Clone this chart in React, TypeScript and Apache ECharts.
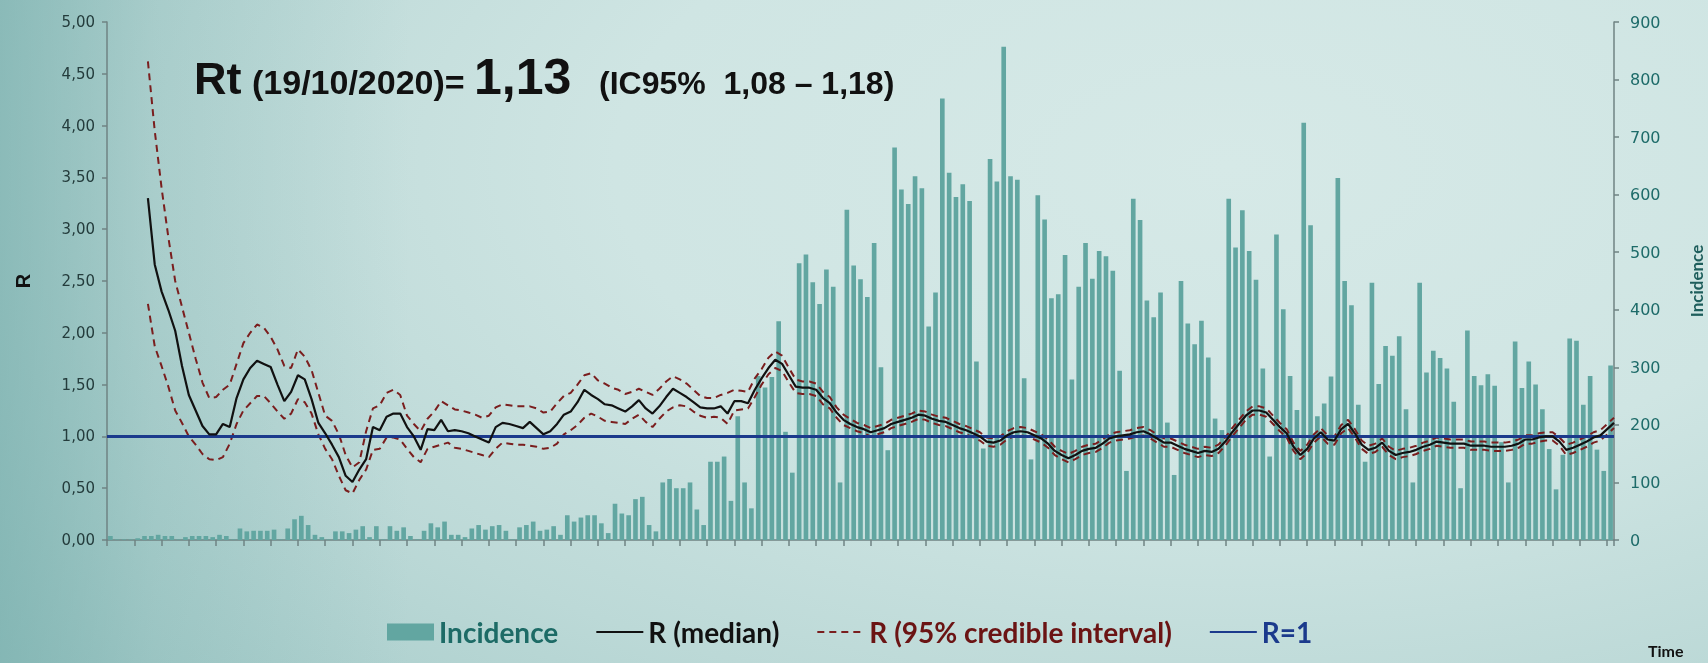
import React, { useEffect, useRef } from "react";
import * as echarts from "echarts";

// ---------- data ----------
function makeDates(n: number, endIso: string): string[] {
  const end = new Date(endIso + "T12:00:00Z").getTime();
  const out: string[] = [];
  for (let k = n - 1; k >= 0; k--) {
    const d = new Date(end - k * 86400000);
    const dd = String(d.getUTCDate()).padStart(2, "0");
    const mm = String(d.getUTCMonth() + 1).padStart(2, "0");
    out.push(dd + "/" + mm + "/" + d.getUTCFullYear());
  }
  return out;
}

const barDays = makeDates(221, "2020-10-18");
const lineDays = makeDates(222, "2020-10-19");

const incidence = [
  7, 1, 1, 1, 3, 7, 7, 9, 7, 7,
  1, 5, 7, 7, 7, 5, 9, 7, 1, 20,
  15, 16, 16, 16, 18, 1, 20, 36, 42, 26,
  9, 5, 1, 15, 15, 12, 18, 24, 5, 24,
  1, 24, 16, 22, 7, 1, 16, 29, 22, 32,
  9, 9, 5, 20, 26, 18, 24, 26, 16, 1,
  22, 26, 32, 16, 18, 24, 9, 43, 32, 39,
  43, 43, 29, 12, 63, 46, 43, 71, 75, 26,
  15, 100, 106, 90, 90, 100, 53, 26, 136, 136,
  145, 68, 215, 100, 55, 285, 265, 283, 380, 188,
  117, 481, 496, 448, 410, 470, 440, 100, 574, 477,
  453, 422, 516, 300, 156, 682, 609, 584, 632, 611,
  371, 430, 767, 638, 596, 618, 589, 310, 159, 662,
  623, 857, 632, 626, 281, 140, 599, 557, 420, 427,
  495, 279, 440, 516, 454, 502, 493, 468, 294, 120,
  593, 556, 416, 387, 430, 204, 113, 450, 376, 340,
  381, 317, 211, 191, 593, 508, 573, 502, 452, 298,
  145, 531, 401, 285, 226, 725, 547, 215, 237, 284,
  629, 450, 408, 235, 136, 447, 271, 337, 320, 354,
  227, 100, 447, 291, 329, 316, 298, 240, 90, 364,
  285, 269, 288, 268, 170, 100, 345, 264, 310, 270,
  227, 158, 88, 148, 350, 346, 235, 285, 157, 120,
  303,
];

const rMedian = [
  null, null, null, null, null, null, 3.3, 2.66, 2.4, 2.22,
  2.02, 1.68, 1.4, 1.25, 1.1, 1.02, 1.02, 1.12, 1.09, 1.37,
  1.55, 1.66, 1.73, 1.7, 1.67, 1.5, 1.34, 1.43, 1.59, 1.55,
  1.36, 1.13, 1.03, 0.92, 0.8, 0.62, 0.56, 0.68, 0.78, 1.09,
  1.06, 1.19, 1.22, 1.22, 1.09, 1.0, 0.87, 1.07, 1.06, 1.16,
  1.05, 1.06, 1.05, 1.03, 1.0, 0.97, 0.94, 1.09, 1.13, 1.12,
  1.1, 1.08, 1.14, 1.08, 1.02, 1.05, 1.12, 1.21, 1.24, 1.33,
  1.45, 1.4, 1.36, 1.31, 1.3, 1.27, 1.24, 1.29, 1.35, 1.27,
  1.22, 1.29, 1.38, 1.46, 1.42, 1.38, 1.33, 1.28, 1.27, 1.27,
  1.29, 1.22, 1.34, 1.34, 1.32, 1.45, 1.56, 1.66, 1.74, 1.7,
  1.59, 1.48, 1.47, 1.47, 1.45, 1.37, 1.32, 1.23, 1.16, 1.12,
  1.09, 1.07, 1.04, 1.06, 1.08, 1.12, 1.14, 1.16, 1.18, 1.21,
  1.2, 1.17, 1.15, 1.14, 1.11, 1.08, 1.06, 1.03, 1.0, 0.95,
  0.94, 0.96, 1.01, 1.04, 1.05, 1.04, 1.01, 0.98, 0.93, 0.86,
  0.82, 0.79, 0.82, 0.86, 0.88, 0.89, 0.93, 0.98, 1.0, 1.01,
  1.02, 1.04, 1.05, 1.02, 0.98, 0.94, 0.94, 0.91, 0.88, 0.86,
  0.84, 0.86, 0.85, 0.88, 0.95, 1.04, 1.12, 1.2, 1.25, 1.25,
  1.23, 1.16, 1.09, 1.03, 0.9, 0.82, 0.88, 0.98, 1.04, 0.97,
  0.96, 1.07, 1.12, 1.03, 0.92, 0.87, 0.89, 0.94, 0.86, 0.82,
  0.84, 0.85, 0.87, 0.9, 0.92, 0.95, 0.94, 0.93, 0.93, 0.93,
  0.91, 0.91, 0.91, 0.9, 0.9, 0.9, 0.91, 0.93, 0.97, 0.97,
  0.99, 1.0, 1.0, 0.95, 0.87, 0.89, 0.92, 0.95, 0.99, 1.01,
  1.07, 1.13,
];

const rUpper = [
  null, null, null, null, null, null, 4.62, 3.95, 3.4, 2.92,
  2.5, 2.25, 2.0, 1.75, 1.52, 1.37, 1.38, 1.45, 1.5, 1.7,
  1.9, 2.0, 2.08, 2.05, 1.96, 1.84, 1.68, 1.66, 1.84, 1.77,
  1.64, 1.42, 1.2, 1.15, 1.02, 0.82, 0.7, 0.75, 1.05, 1.27,
  1.3, 1.42, 1.45, 1.4, 1.2, 1.12, 1.05, 1.17, 1.24, 1.34,
  1.3, 1.26, 1.25, 1.23, 1.21, 1.18, 1.2, 1.28, 1.31, 1.3,
  1.29, 1.29, 1.29, 1.27, 1.23, 1.24, 1.32, 1.39, 1.42, 1.5,
  1.59, 1.61, 1.54, 1.51, 1.47, 1.45, 1.41, 1.43, 1.46, 1.43,
  1.4, 1.46, 1.53, 1.58, 1.55, 1.51, 1.45, 1.39, 1.37, 1.37,
  1.4, 1.42, 1.45, 1.44, 1.43, 1.56, 1.65, 1.76, 1.82, 1.78,
  1.66, 1.55, 1.53, 1.53, 1.51, 1.43, 1.38, 1.28, 1.21, 1.17,
  1.13, 1.11, 1.08, 1.1, 1.12, 1.16, 1.18, 1.2, 1.22, 1.25,
  1.24, 1.21, 1.19, 1.18, 1.15, 1.12, 1.1, 1.07, 1.04, 0.99,
  0.98, 1.0, 1.05, 1.08, 1.09, 1.08, 1.05, 1.02, 0.97, 0.9,
  0.86, 0.83, 0.86, 0.9, 0.92, 0.93, 0.97, 1.02, 1.04, 1.05,
  1.06, 1.08, 1.09, 1.06, 1.02, 0.98, 0.98, 0.95, 0.92, 0.9,
  0.88, 0.9, 0.89, 0.92, 0.99, 1.08, 1.16, 1.24, 1.29, 1.29,
  1.27, 1.2, 1.13, 1.07, 0.94, 0.86, 0.92, 1.02, 1.08, 1.01,
  1.0, 1.11, 1.16, 1.07, 0.96, 0.91, 0.93, 0.98, 0.9, 0.86,
  0.88, 0.89, 0.91, 0.94, 0.96, 0.99, 0.98, 0.97, 0.97, 0.97,
  0.95, 0.95, 0.95, 0.94, 0.94, 0.94, 0.95, 0.97, 1.01, 1.01,
  1.03, 1.04, 1.04, 0.99, 0.92, 0.94, 0.97, 1.0, 1.04, 1.06,
  1.12, 1.18,
];

const rLower = [
  null, null, null, null, null, null, 2.28, 1.87, 1.68, 1.48,
  1.25, 1.13, 1.0, 0.92, 0.83, 0.78, 0.77, 0.8, 0.93, 1.12,
  1.25, 1.32, 1.39, 1.39, 1.32, 1.24, 1.17, 1.22, 1.36, 1.33,
  1.22, 1.02, 0.88, 0.78, 0.62, 0.48, 0.45, 0.58, 0.68, 0.87,
  0.88, 0.99, 0.99, 0.97, 0.88, 0.8, 0.75, 0.88, 0.9, 0.92,
  0.94, 0.89, 0.88, 0.86, 0.84, 0.82, 0.8, 0.88, 0.94, 0.93,
  0.92, 0.92, 0.91, 0.9, 0.88, 0.89, 0.93, 1.02, 1.06, 1.11,
  1.18, 1.22, 1.19, 1.15, 1.14, 1.13, 1.12, 1.17, 1.21, 1.14,
  1.09, 1.17, 1.24, 1.28, 1.3, 1.29, 1.24, 1.2, 1.18, 1.19,
  1.18, 1.12, 1.25, 1.26, 1.27, 1.38, 1.5, 1.6, 1.66, 1.63,
  1.52, 1.42, 1.41, 1.41, 1.39, 1.31, 1.27, 1.18, 1.11, 1.08,
  1.05, 1.03, 1.0, 1.02, 1.04, 1.08, 1.1, 1.12, 1.14, 1.17,
  1.16, 1.13, 1.11, 1.1, 1.07, 1.04, 1.02, 0.99, 0.96, 0.91,
  0.9, 0.92, 0.97, 1.0, 1.01, 1.0, 0.97, 0.94, 0.89, 0.82,
  0.78, 0.75, 0.78, 0.82, 0.84, 0.85, 0.89, 0.94, 0.96, 0.97,
  0.98, 1.0, 1.01, 0.98, 0.94, 0.9, 0.9, 0.87, 0.84, 0.82,
  0.8, 0.82, 0.81, 0.84, 0.91, 1.0, 1.08, 1.16, 1.21, 1.21,
  1.19, 1.12, 1.05, 0.99, 0.86, 0.78, 0.84, 0.94, 1.0, 0.93,
  0.92, 1.03, 1.08, 0.99, 0.88, 0.83, 0.85, 0.9, 0.82, 0.78,
  0.8, 0.81, 0.83, 0.86, 0.88, 0.91, 0.9, 0.89, 0.89, 0.89,
  0.87, 0.87, 0.87, 0.86, 0.86, 0.86, 0.87, 0.89, 0.93, 0.93,
  0.95, 0.96, 0.96, 0.91, 0.82, 0.84, 0.87, 0.9, 0.94, 0.96,
  1.02, 1.08,
];

const REFERENCE_R = 1;
const titleParts = ["Rt", "(19/10/2020)=", "1,13", "(IC95%  1,08 – 1,18)"];
const legendNames = ["Incidence", "R (median)", "R (95% credible interval)", "R=1"];

// ---------- styles ----------
const BAR = "#62a6a1";
const NAVY = "#1b3a8c";
const DARKRED = "#7a1e1e";
const AXIS = "#6f8383";
const TITLE_FONT = '"Liberation Sans", Arial, sans-serif';

export default function App() {
  const ref = useRef<HTMLDivElement>(null);

  useEffect(() => {
    document.body.style.margin = "0";
    document.body.style.overflow = "hidden";
    if (!ref.current) return;
    const chart = echarts.init(ref.current, undefined, { renderer: "svg" });

    const titleStyle = (size: number) => ({
      fill: "#111111",
      fontFamily: TITLE_FONT,
      fontWeight: "bold",
      fontSize: size,
      align: "left",
      verticalAlign: "middle",
      textAlign: "left",
      textVerticalAlign: "middle",
    });
    const baseline = 94;
    const yFor = (size: number) => baseline - 0.347 * size;

    const hiddenSymbol = { opacity: 0 };

    const option: any = {
      animation: false,
      backgroundColor: "transparent",
      grid: {
        left: 107,
        right: 94,
        top: 22,
        bottom: 123,
        containLabel: false,
        outerBoundsMode: "none",
      },
      legend: {
        left: 382,
        top: 613,
        itemWidth: 47,
        itemHeight: 17,
        itemGap: 37,
        textStyle: { fontFamily: "Lato", fontWeight: "bold", fontSize: 28 },
        data: [
          { name: legendNames[0], icon: "rect", textStyle: { color: "#1d6b66" } },
          { name: legendNames[1], itemStyle: hiddenSymbol, textStyle: { color: "#111111" } },
          { name: legendNames[2], itemStyle: hiddenSymbol, textStyle: { color: "#6b1414" } },
          { name: legendNames[3], itemStyle: hiddenSymbol, textStyle: { color: NAVY } },
        ],
      },
      xAxis: [
        {
          type: "category",
          data: barDays,
          boundaryGap: true,
          axisLine: { show: true, lineStyle: { color: AXIS, width: 1.5 } },
          axisTick: { show: true, interval: 3, length: 6, lineStyle: { color: AXIS, width: 1.5 } },
          axisLabel: { show: false },
          splitLine: { show: false },
        },
        {
          type: "category",
          data: lineDays,
          boundaryGap: false,
          show: false,
        },
      ],
      yAxis: [
        {
          type: "value",
          position: "left",
          min: 0,
          max: 5,
          interval: 0.5,
          axisLine: { show: true, lineStyle: { color: AXIS, width: 1.5 } },
          axisTick: { show: true, length: 5, lineStyle: { color: AXIS, width: 1.5 } },
          splitLine: { show: false },
          axisLabel: {
            formatter: (v: number) => v.toFixed(2).replace(".", ","),
            color: "#243c3c",
            fontFamily: "DejaVu Sans",
            fontSize: 15,
            margin: 12,
          },
          name: "R",
          nameLocation: "middle",
          nameGap: 74,
          nameRotate: 90,
          nameTextStyle: { fontFamily: TITLE_FONT, fontWeight: "bold", fontSize: 20, color: "#111111" },
        },
        {
          type: "value",
          position: "right",
          min: 0,
          max: 900,
          interval: 100,
          axisLine: { show: true, lineStyle: { color: AXIS, width: 1.5 } },
          axisTick: { show: true, length: 5, lineStyle: { color: AXIS, width: 1.5 } },
          splitLine: { show: false },
          axisLabel: {
            color: "#1d6b69",
            fontFamily: "DejaVu Sans",
            fontSize: 16,
            margin: 16,
          },
          name: "Incidence",
          nameLocation: "middle",
          nameGap: 74,
          nameRotate: 90,
          nameTextStyle: { fontFamily: "Lato", fontWeight: "bold", fontSize: 17, color: "#1e5e5c" },
        },
      ],
      series: [
        {
          type: "bar",
          name: legendNames[0],
          xAxisIndex: 0,
          yAxisIndex: 1,
          data: incidence,
          barCategoryGap: "32%",
          itemStyle: { color: BAR },
          z: 1,
        },
        {
          type: "line",
          name: legendNames[3],
          xAxisIndex: 1,
          yAxisIndex: 0,
          data: [],
          symbol: "none",
          lineStyle: { color: NAVY, width: 3 },
          itemStyle: { color: NAVY },
          markLine: {
            silent: true,
            symbol: ["none", "none"],
            label: { show: false },
            lineStyle: { color: NAVY, width: 3, type: "solid" },
            data: [{ yAxis: REFERENCE_R }],
          },
          z: 3,
        },
        {
          type: "line",
          name: legendNames[2],
          xAxisIndex: 1,
          yAxisIndex: 0,
          data: rUpper,
          symbol: "none",
          lineStyle: { color: DARKRED, width: 2, type: [7, 5] },
          itemStyle: { color: DARKRED },
          z: 4,
        },
        {
          type: "line",
          name: legendNames[2],
          xAxisIndex: 1,
          yAxisIndex: 0,
          data: rLower,
          symbol: "none",
          lineStyle: { color: DARKRED, width: 2, type: [7, 5] },
          itemStyle: { color: DARKRED },
          z: 4,
        },
        {
          type: "line",
          name: legendNames[1],
          xAxisIndex: 1,
          yAxisIndex: 0,
          data: rMedian,
          symbol: "none",
          lineStyle: { color: "#111111", width: 2.2 },
          itemStyle: { color: "#111111" },
          z: 5,
        },
      ],
      graphic: [
        { type: "text", x: 194, y: yFor(45), silent: true, style: { text: titleParts[0], ...titleStyle(45) } },
        { type: "text", x: 252, y: yFor(34), silent: true, style: { text: titleParts[1], ...titleStyle(34) } },
        { type: "text", x: 474, y: yFor(50), silent: true, style: { text: titleParts[2], ...titleStyle(50) } },
        { type: "text", x: 599, y: yFor(32), silent: true, style: { text: titleParts[3], ...titleStyle(32) } },
        {
          type: "text",
          x: 1648,
          y: 650,
          silent: true,
          style: {
            text: "Time",
            fill: "#111111",
            fontFamily: "Lato",
            fontWeight: "bold",
            fontSize: 16,
            align: "left",
            verticalAlign: "middle",
          },
        },
      ],
    };

    chart.setOption(option);
    return () => chart.dispose();
  }, []);

  return (
    <div
      style={{
        position: "fixed",
        left: 0,
        top: 0,
        width: 1708,
        height: 663,
        overflow: "hidden",
        background:
          "linear-gradient(90deg, rgba(112,170,168,0.6) 0%, rgba(112,170,168,0.25) 9%, rgba(112,170,168,0) 24%), radial-gradient(ellipse 90% 120% at 72% 25%, #d6e9e7 0%, #cfe5e3 40%, #bcd9d7 70%, #a3cac8 100%)",
      }}
    >
      <div ref={ref} style={{ width: 1708, height: 663 }} />
    </div>
  );
}
